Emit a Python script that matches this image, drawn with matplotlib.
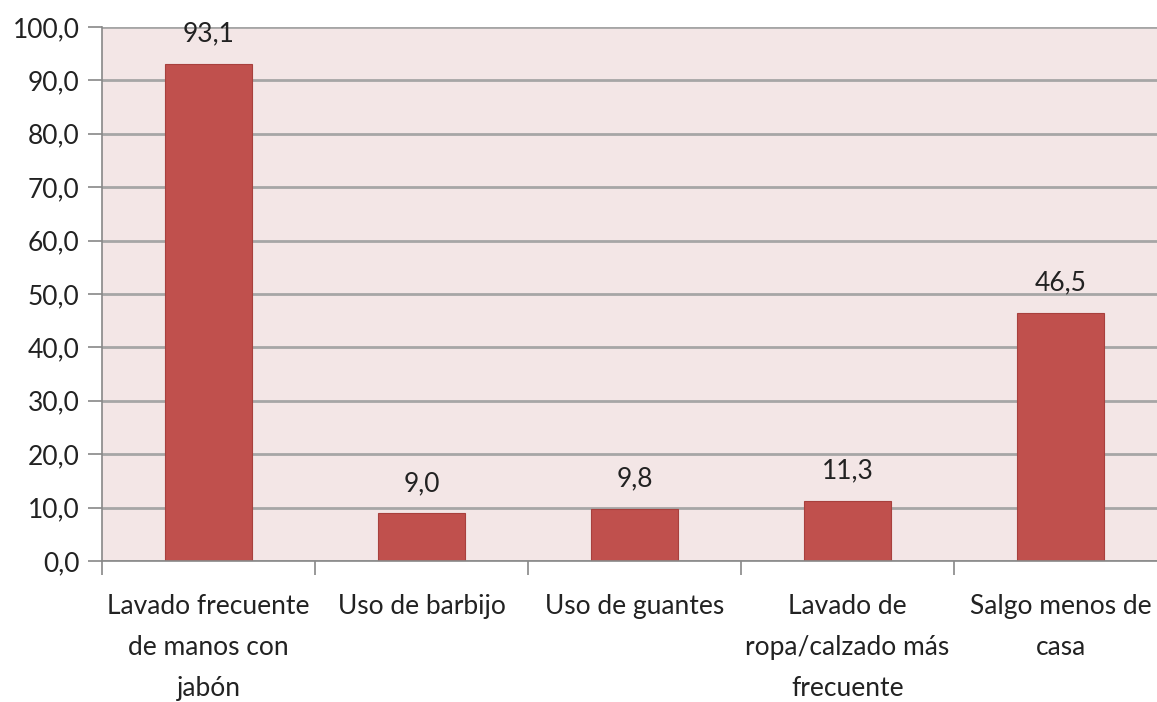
import matplotlib.pyplot as plt

# ----- Данные ----- #
categories = ["Lavado frecuente\nde manos con\njabón", "Uso de barbijo", "Uso de guantes",
              "Lavado de\nropa/calzado más\nfrecuente", "Salgo menos de\ncasa"]
values = [93.1, 9.0, 9.8, 11.3, 46.5]

plt.rcParams["font.family"] = ["Lato", "DejaVu Sans"]
FS = 19

fig = plt.figure(figsize=(11.57, 7.02), dpi=100)
ax = fig.add_axes([102 / 1157, 1 - 561 / 702, 1065 / 1157, 534 / 702])
ax.set_facecolor("#f3e6e6")

x = list(range(len(categories)))
ax.bar(x, values, width=0.405, color="#c0504d", edgecolor="#a8403d", linewidth=0.8, zorder=3)
for xi, v in zip(x, values):
    ax.text(xi, v + 3.2, f"{v:.1f}".replace(".", ","), ha="center", va="bottom",
            fontsize=FS, color="#222222")

ax.set_xlim(-0.5, len(categories) - 0.5)
ax.set_ylim(0, 100)
ax.set_yticks(range(0, 101, 10))
ax.set_yticklabels([f"{t:.1f}".replace(".", ",") for t in range(0, 101, 10)], fontsize=FS, color="#222222")
ax.grid(axis="y", color="#a6a6a6", linewidth=2, zorder=1)

ax.set_xticks([i - 0.5 for i in range(len(categories) + 1)])
ax.set_xticklabels([])
ax.set_xticks(x, minor=True)
ax.set_xticklabels(categories, minor=True, fontsize=FS, color="#222222", linespacing=1.8)
ax.tick_params(axis="x", which="minor", length=0, pad=24)
ax.tick_params(axis="x", which="major", length=10, width=1.2, color="#888888")
ax.tick_params(axis="y", length=10, width=1.2, color="#888888", pad=6)

for side in ["top", "right"]:
    ax.spines[side].set_visible(False)
for side in ["left", "bottom"]:
    ax.spines[side].set_color("#888888")
    ax.spines[side].set_linewidth(1.2)
ax.spines["bottom"].set_zorder(4)

fig.savefig("out.png", dpi=100)
